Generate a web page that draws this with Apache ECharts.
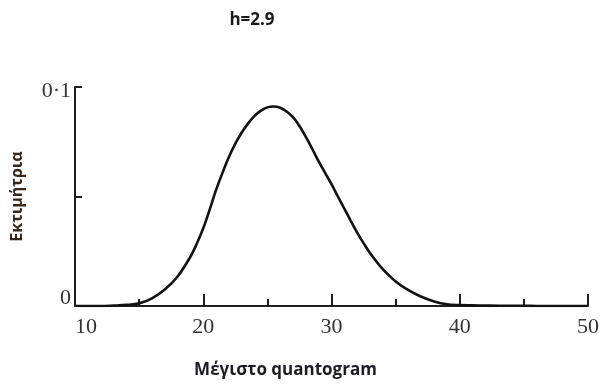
<!DOCTYPE html>
<html>
<head>
<meta charset="utf-8">
<script src="https://cdn.jsdelivr.net/npm/echarts@6/dist/echarts.min.js"></script>
<style>html,body{margin:0;padding:0;background:#fff}#c{width:602px;height:388px}</style>
</head>
<body>
<div id="c"></div>
<script>
var titleText = 'h=2.9';
var xName = 'Μέγιστο quantogram';
var yName = 'Εκτιμήτρια';
var xValues = [10, 11, 12, 13, 14, 15, 16, 17, 18, 19, 19.5, 20, 20.5, 21, 21.5, 22, 22.5, 23, 23.5, 24, 24.5, 25, 25.5, 26, 26.5, 27, 27.5, 28, 28.5, 29, 29.5, 30, 30.5, 31, 31.5, 32, 32.5, 33, 34, 35, 36, 37, 38, 39, 40, 41, 42, 43, 44, 45, 46, 48, 50];
var yValues = [0, 0, 0, 0.0002, 0.0005, 0.0012, 0.0035, 0.0075, 0.0135, 0.0225, 0.0285, 0.0355, 0.0440, 0.053, 0.0608, 0.068, 0.0741, 0.0792, 0.0834, 0.0868, 0.0892, 0.0907, 0.0911, 0.0905, 0.0888, 0.0862, 0.0822, 0.0772, 0.0717, 0.0660, 0.0608, 0.0556, 0.0500, 0.0445, 0.0389, 0.0335, 0.0287, 0.0242, 0.0168, 0.0112, 0.0072, 0.0042, 0.0021, 0.0008, 0.0004, 0.0003, 0.0002, 0.0001, 0.0001, 0.0001, 0, 0, 0];
var yTickLabels = {'0': '0', '0.1': '0·1'};

var data = xValues.map(function (x, i) { return [x, yValues[i]]; });
var chart = echarts.init(document.getElementById('c'), null, {renderer: 'canvas'});
chart.setOption({
  animation: false,
  backgroundColor: '#ffffff',
  title: {
    text: titleText,
    left: 247, top: 7, textAlign: 'center',
    textStyle: {fontFamily: 'Open Sans', fontWeight: 'bold', fontSize: 17, color: '#1a1a1a'}
  },
  grid: {left: 75, right: 12, top: 87, bottom: 82},
  xAxis: {
    type: 'value', min: 10, max: 50, interval: 10,
    name: xName, nameLocation: 'middle', nameGap: 56,
    nameTextStyle: {fontFamily: 'Open Sans', fontWeight: 'bold', fontSize: 17, color: '#1c1c24', padding: [0, 92, 0, 0]},
    axisLine: {show: true, lineStyle: {color: '#1e1e1e', width: 2}},
    axisTick: {show: true, inside: true, length: 12, lineStyle: {color: '#1e1e1e', width: 2}},
    minorTick: {show: true, splitNumber: 2, length: 7, lineStyle: {color: '#1e1e1e', width: 2}},
    splitLine: {show: false},
    axisLabel: {
      margin: 10, fontFamily: 'Liberation Serif', fontSize: 22, color: '#333',
      alignMinLabel: 'left', alignMaxLabel: 'center'
    }
  },
  yAxis: {
    type: 'value', min: 0, max: 0.1, interval: 0.05,
    name: yName, nameLocation: 'middle', nameGap: 50, nameRotate: 90,
    nameTextStyle: {fontFamily: 'Open Sans', fontWeight: 'bold', fontSize: 16, color: '#3a2616', padding: [0, 0, 0, 0]},
    axisLine: {show: true, lineStyle: {color: '#1e1e1e', width: 2}},
    axisTick: {show: true, inside: true, length: 7, lineStyle: {color: '#1e1e1e', width: 2}},
    splitLine: {show: false},
    axisLabel: {
      margin: 4, fontFamily: 'Liberation Serif', fontSize: 22, color: '#333',
      formatter: function (v) {
        var k = String(Math.round(v * 100) / 100);
        if (k === '0') return '{z|' + yTickLabels[k] + '}';
        if (k === '0.1') return '{t|' + yTickLabels[k] + '}';
        return '';
      },
      rich: {
        z: {fontFamily: 'Liberation Serif', fontSize: 22, color: '#333', padding: [0, 0, 16, 0]},
        t: {fontFamily: 'Liberation Serif', fontSize: 22, color: '#333', padding: [8, 0, 0, 0]}
      }
    }
  },
  series: [{
    type: 'line', data: data, smooth: 0.35, showSymbol: false,
    lineStyle: {color: '#111', width: 2.6}
  }]
});
</script>
</body>
</html>
